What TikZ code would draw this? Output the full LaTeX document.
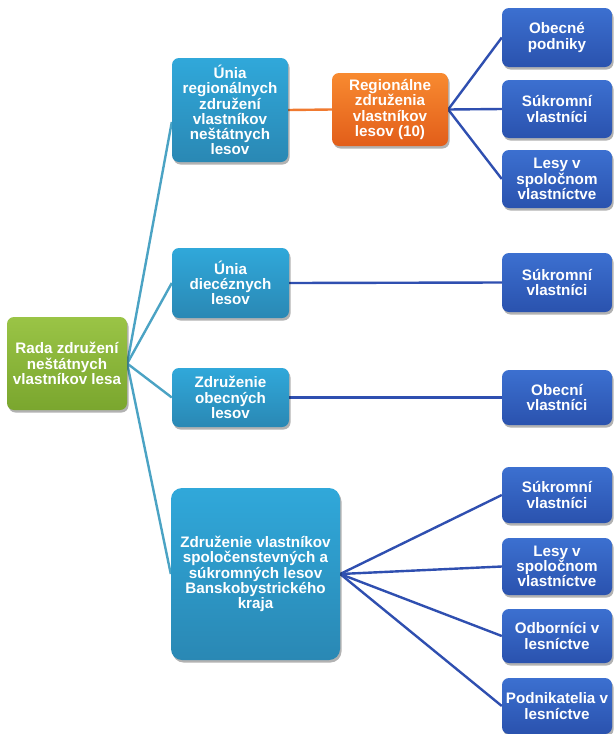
\documentclass[tikz,border=0pt]{standalone}
\usepackage{fontspec}
\setmainfont{Liberation Sans}
\usetikzlibrary{shadows}
\pgfdeclarelayer{bg}
\pgfsetlayers{bg,main}
\definecolor{gtop}{HTML}{9AC446}
\definecolor{gbot}{HTML}{7AA62E}
\definecolor{btop}{HTML}{30A8DA}
\definecolor{bbot}{HTML}{2A88B4}
\definecolor{otop}{HTML}{F88A30}
\definecolor{obot}{HTML}{E25E1A}
\definecolor{dtop}{HTML}{3C70D0}
\definecolor{dbot}{HTML}{2A52AE}
\definecolor{tealc}{HTML}{4BA3C4}
\definecolor{oline}{HTML}{F07A30}
\definecolor{dline}{HTML}{2F4FB0}
\tikzset{
  boxbase/.style={rounded corners=7pt, align=center, text=white,
    font=\fontsize{15.2}{15.3}\selectfont\bfseries, inner sep=2pt,
    drop shadow={shadow xshift=1.5pt, shadow yshift=-2.5pt, opacity=0.3, fill=black}},
  greenbox/.style={boxbase, top color=gtop, bottom color=gbot},
  bluebox/.style={boxbase, top color=btop, bottom color=bbot},
  orangebox/.style={boxbase, top color=otop, bottom color=obot},
  darkbox/.style={boxbase, top color=dtop, bottom color=dbot, minimum width=110pt},
  tealline/.style={draw=tealc, line width=2.4pt},
  orangeline/.style={draw=oline, line width=2.4pt},
  darkline/.style={draw=dline, line width=2.4pt},
}
\begin{document}
\begin{tikzpicture}[x=1pt, y=-1pt]
\useasboundingbox (0,0) rectangle (614,734);
% root
\node[greenbox, minimum width=120pt, minimum height=93pt] (root) at (67,363.5)
  {Rada združení\\neštátnych\\vlastníkov lesa};
% level 1
\node[bluebox, minimum width=116pt, minimum height=104pt] (u1) at (230,110)
  {Únia\\regionálnych\\združení\\vlastníkov\\neštátnych\\lesov};
\node[bluebox, minimum width=117pt, minimum height=70pt] (u2) at (230.5,283)
  {Únia\\diecéznych\\lesov};
\node[bluebox, minimum width=117pt, minimum height=59pt] (u3) at (230.5,397.5)
  {Združenie\\obecných\\lesov};
\node[bluebox, rounded corners=11pt, minimum width=169pt, minimum height=172pt] (big) at (255.5,574)
  {Združenie vlastníkov\\spoločenstevných a\\súkromných lesov\\Banskobystrického\\kraja};
% orange
\node[orangebox, minimum width=116pt, minimum height=73pt] (reg) at (390,109.5)
  {Regionálne\\združenia\\vlastníkov\\lesov (10)};
% right column
\node[darkbox, minimum height=59pt] (r1) at (557,37.5) {Obecné\\podniky};
\node[darkbox, minimum height=58pt] (r2) at (557,109) {Súkromní\\vlastníci};
\node[darkbox, minimum height=58pt] (r3) at (557,179) {Lesy v\\spoločnom\\vlastníctve};
\node[darkbox, minimum height=59pt] (r4) at (557,282.5) {Súkromní\\vlastníci};
\node[darkbox, minimum height=55pt] (r5) at (557,397.5) {Obecní\\vlastníci};
\node[darkbox, minimum height=56pt] (r6) at (557,495) {Súkromní\\vlastníci};
\node[darkbox, minimum height=57pt] (r7) at (557,566.5) {Lesy v\\spoločnom\\vlastníctve};
\node[darkbox, minimum height=54pt] (r8) at (557,636) {Odborníci v\\lesníctve};
\node[darkbox, minimum height=56pt] (r9) at (557,706) {Podnikatelia v\\lesníctve};
% connectors
\begin{pgfonlayer}{bg}
  \fill[white] (0,0) rectangle (614,734);
  \draw[tealline] (root.east) -- ([yshift=-12pt]u1.west);
  \foreach \t in {u2,u3,big} \draw[tealline] (root.east) -- (\t.west);
  \draw[orangeline] (u1.east) -- (reg.west);
  \foreach \t in {r1,r2,r3} \draw[darkline] (reg.east) -- (\t.west);
  \draw[darkline] (u2.east) -- (r4.west);
  \draw[darkline] (u3.east) -- (r5.west);
  \foreach \t in {r6,r7,r8,r9} \draw[darkline] (big.east) -- (\t.west);
\end{pgfonlayer}
\end{tikzpicture}
\end{document}
